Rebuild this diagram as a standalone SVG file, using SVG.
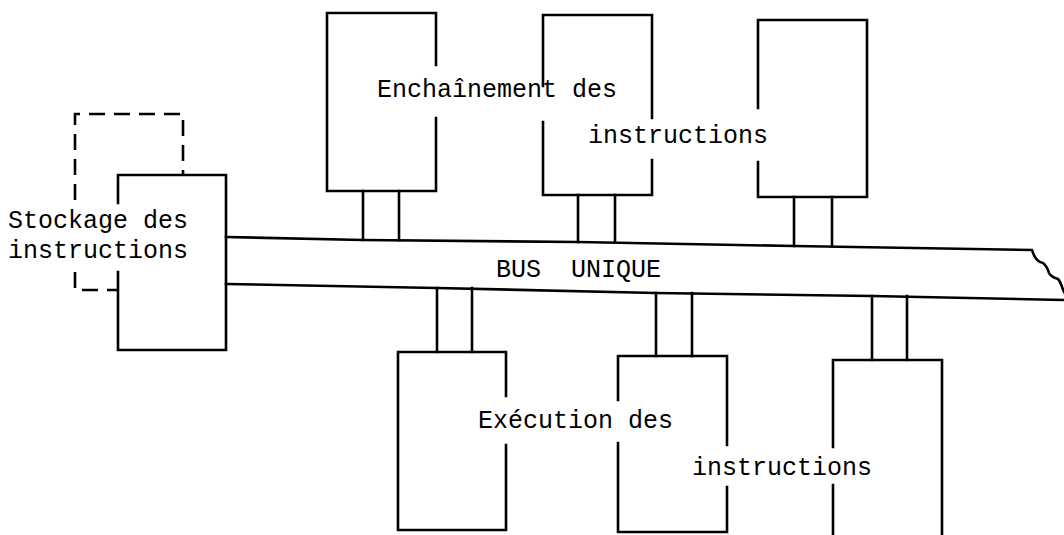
<svg xmlns="http://www.w3.org/2000/svg" width="1064" height="535" viewBox="0 0 1064 535">
<style>
.ln{fill:none;stroke:#000;stroke-width:2.6;stroke-linecap:square;stroke-linejoin:miter}
.ds{fill:none;stroke:#000;stroke-width:2.6;stroke-dasharray:16 9}
.t{font-family:"Liberation Mono","DejaVu Sans Mono",monospace;font-size:25px;fill:#000}
</style>
<rect width="1064" height="535" fill="#fff"/>
<g id="stockage">
<path class="ds" d="M75,200 V114 H183 V175"/>
<path class="ds" d="M75,272 V290 H118"/>
<path class="ln" d="M118,203 V175 H226 V350 H118 V272"/>
<text class="t" x="8" y="228">Stockage des</text>
<text class="t" x="8" y="258">instructions</text>
</g>
<g id="bus">
<path class="ln" d="M226,237 L363,240 L578,242 L794,246 L1032,250 C1034,257 1037,262 1043,263 C1047,266 1048,270 1049,273 C1051,277 1055,278 1058,279 C1061,282 1062,288 1064,292"/>
<path class="ln" d="M226,284 L437,288 L656,293 L872,296 L1064,300"/>
<text class="t" x="496" y="277">BUS</text>
<text class="t" x="571" y="277">UNIQUE</text>
</g>
<g id="enchainement-1">
<path class="ln" d="M436,65 V13 H327 V191 H436 V118"/>
</g>
<g id="enchainement-2">
<path class="ln" d="M543,86 V15 H652 V118 M652,160 V195 H543 V122"/>
</g>
<g id="enchainement-3">
<path class="ln" d="M758,108 V20 H867 V197 H758 V162"/>
</g>
<g id="enchainement-label">
<text class="t" x="377" y="97">Enchaînement des</text>
<text class="t" x="588" y="143">instructions</text>
</g>
<g id="execution-1">
<path class="ln" d="M506,396 V352 H398 V530 H506 V445"/>
</g>
<g id="execution-2">
<path class="ln" d="M618,400 V356 H727 V445 M727,487 V532 H618 V443"/>
</g>
<g id="execution-3">
<path class="ln" d="M833,447 V360 H942 V535 M833,485 V535"/>
</g>
<g id="execution-label">
<text class="t" x="478" y="428">Exécution des</text>
<text class="t" x="692" y="475">instructions</text>
</g>
<g id="connectors">
<path class="ln" d="M363,191 V240 M399,191 V240"/>
<path class="ln" d="M578,195 V242 M615,195 V242"/>
<path class="ln" d="M794,197 V246 M832,197 V246"/>
<path class="ln" d="M437,288 V352 M472,288 V352"/>
<path class="ln" d="M656,293 V356 M692,293 V356"/>
<path class="ln" d="M872,296 V360 M907,296 V360"/>
</g>
</svg>
